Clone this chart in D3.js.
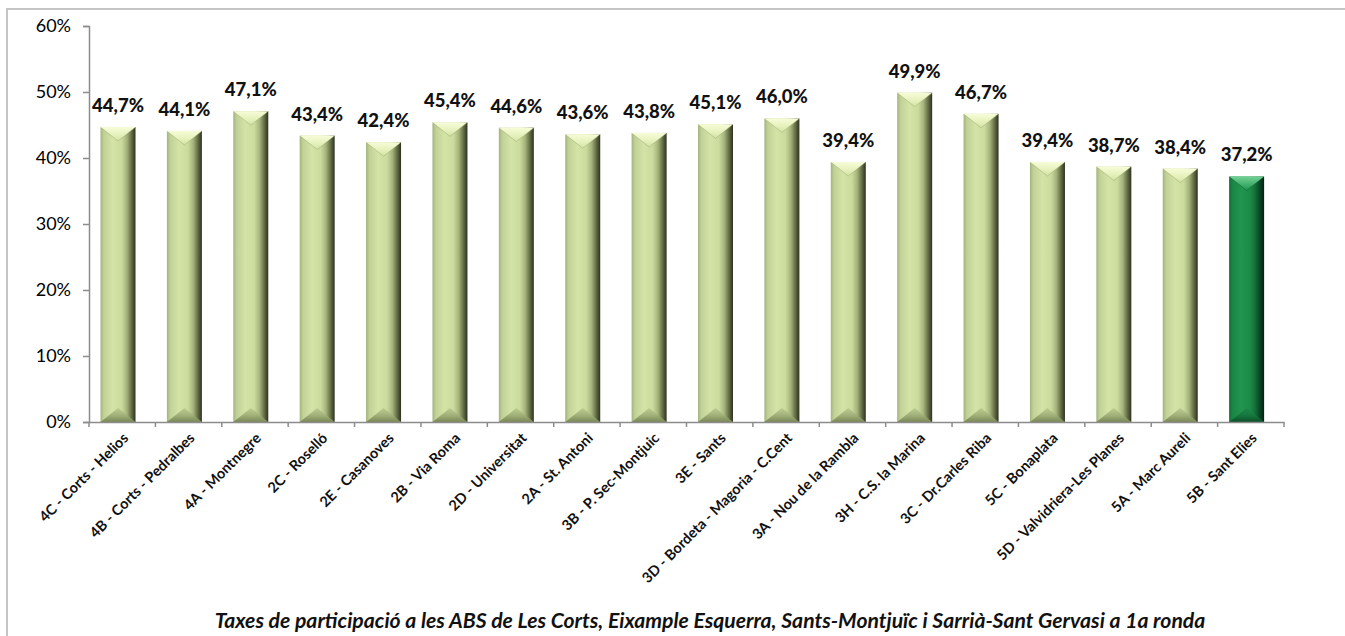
<!DOCTYPE html>
<html>
<head>
<meta charset="utf-8">
<script src="https://cdn.jsdelivr.net/npm/d3@7"></script>
<style>
  html, body { margin: 0; padding: 0; background: #fff; }
  svg { display: block; }
  text { font-family: Lato, "Open Sans", sans-serif; }
</style>
</head>
<body>
<svg id="chart" width="1345" height="636"></svg>
<script>
// ---- data ----
const categories = [
  "4C - Corts - Helios", "4B - Corts - Pedralbes", "4A - Montnegre", "2C - Roselló",
  "2E - Casanoves", "2B - Via Roma", "2D - Universitat", "2A - St. Antoni",
  "3B - P. Sec-Montjuic", "3E - Sants", "3D - Bordeta - Magoria - C.Cent",
  "3A - Nou de la Rambla", "3H - C.S. la Marina", "3C - Dr.Carles Riba",
  "5C - Bonaplata", "5D - Valvidriera-Les Planes", "5A - Marc Aureli", "5B - Sant Elies"
];
const values = [44.7, 44.1, 47.1, 43.4, 42.4, 45.4, 44.6, 43.6, 43.8, 45.1, 46.0, 39.4, 49.9, 46.7, 39.4, 38.7, 38.4, 37.2];
const highlighted = ["5B - Sant Elies"];
const yTicks = [0, 10, 20, 30, 40, 50, 60];
const title = "Taxes de participació a les ABS de Les Corts, Eixample Esquerra, Sants-Montjuïc i Sarrià-Sant Gervasi a 1a ronda";

// ---- layout ----
const svg = d3.select("#chart");
const plot = { left: 89, right: 1284, top: 26, bottom: 422 };

// frame
svg.append("rect").attr("x", 7).attr("y", 9).attr("width", 1400).attr("height", 700)
  .attr("fill", "none").attr("stroke", "#c4c4c4").attr("stroke-width", 2);

const x = d3.scaleBand().domain(categories).range([plot.left, plot.right]).paddingInner(0).paddingOuter(0);
const y = d3.scaleLinear().domain([0, 60]).range([plot.bottom, plot.top]);

// gradients
const defs = svg.append("defs");
function grad(id, vertical, stops) {
  const g = defs.append("linearGradient").attr("id", id)
    .attr("x1", 0).attr("y1", 0).attr("x2", vertical ? 0 : 1).attr("y2", vertical ? 1 : 0);
  stops.forEach(s => g.append("stop").attr("offset", s[0]).attr("stop-color", s[1]));
}
const themes = {
  light: { body: "lb", top: "lt", bot: "lbo", edge: "#9aa871" },
  dark: { body: "db", top: "dt", bot: "dbo", edge: "#0f5c2e" }
};
grad("lb", false, [[0, "#a3b37c"], [0.1, "#c2d297"], [0.35, "#d4e4a7"], [0.6, "#cbdb9d"], [0.75, "#a6b47c"], [0.88, "#667049"], [1, "#2c311f"]]);
grad("lt", true, [[0, "#f7fcd8"], [0.6, "#e4f0ba"], [1, "#d2e2a4"]]);
grad("lbo", true, [[0, "#bccc90"], [0.5, "#a2b27a"], [1, "#7a8856"]]);
grad("db", false, [[0, "#137036"], [0.1, "#1a8646"], [0.35, "#21954f"], [0.6, "#1c8a48"], [0.75, "#146c38"], [0.88, "#0a4524"], [1, "#032010"]]);
grad("dt", true, [[0, "#74d196"], [0.6, "#3fae6b"], [1, "#1f9350"]]);
grad("dbo", true, [[0, "#1c8646"], [0.5, "#167a3f"], [1, "#0c4f28"]]);

const barW = 35;
const barOffset = 11.5;
const bev = 14;

svg.append("g").selectAll("g").data(categories).join("g")
  .each(function(c, i) {
    const g = d3.select(this);
    const t = highlighted.includes(c) ? themes.dark : themes.light;
    const x0 = x(c) + barOffset, x1 = x0 + barW, xm = (x0 + x1) / 2;
    const yt = y(values[i]), yb = y(0);
    g.append("rect").attr("x", x0).attr("y", yt).attr("width", barW).attr("height", yb - yt)
      .attr("fill", `url(#${t.body})`);
    g.append("path").attr("d", `M${x0},${yt}L${x1},${yt}L${xm},${yt + bev}Z`)
      .attr("fill", `url(#${t.top})`);
    g.append("path").attr("d", `M${x0 + 1},${yt + 1}L${xm},${yt + bev}L${x1 - 1},${yt + 1}`)
      .attr("fill", "none").attr("stroke", t.edge).attr("stroke-width", 0.8).attr("opacity", 0.6);
    g.append("path").attr("d", `M${x0},${yb}L${x1},${yb}L${xm},${yb - bev}Z`)
      .attr("fill", `url(#${t.bot})`);
  });

// value labels
svg.append("g").selectAll("text").data(categories).join("text")
  .attr("x", c => x(c) + barOffset + barW / 2)
  .attr("y", (c, i) => y(values[i]) - 15)
  .attr("text-anchor", "middle")
  .attr("font-size", 18.5).attr("font-weight", 900).attr("fill", "#111")
  .text((c, i) => values[i].toFixed(1).replace(".", ",") + "%");

// y axis
const yAxis = svg.append("g").attr("transform", `translate(${plot.left},0)`)
  .call(d3.axisLeft(y).tickValues(yTicks).tickSize(6).tickPadding(12).tickFormat(d => d + "%"));
yAxis.select(".domain").attr("stroke", "#8c8c8c").attr("stroke-width", 1.5);
yAxis.selectAll(".tick line").attr("stroke", "#8c8c8c").attr("stroke-width", 1.5);
yAxis.selectAll(".tick text").attr("font-size", 18).attr("fill", "#000")
  .attr("font-family", "Lato, sans-serif");

// x axis
const xAxis = svg.append("g").attr("transform", `translate(0,${plot.bottom})`)
  .call(d3.axisBottom(x).tickSize(0).tickFormat(""));
xAxis.select(".domain").attr("stroke", "#8c8c8c").attr("stroke-width", 1.5);
xAxis.selectAll(".tick").remove();
const bounds = [plot.left].concat(categories.map(c => x(c) + x.bandwidth()));
xAxis.selectAll("line.b").data(bounds).join("line").attr("class", "b")
  .attr("x1", d => d).attr("x2", d => d).attr("y1", 0).attr("y2", 5)
  .attr("stroke", "#8c8c8c").attr("stroke-width", 1.5);

svg.append("g").selectAll("text").data(categories).join("text")
  .attr("transform", c => `translate(${x(c) + x.bandwidth() / 2 + 7},${plot.bottom + 17}) rotate(-45)`)
  .attr("text-anchor", "end")
  .attr("font-size", 14.5).attr("font-weight", "bold").attr("fill", "#111")
  .text(c => c);

// title
const tt = svg.append("text").attr("x", 710).attr("y", 628).attr("text-anchor", "middle")
  .attr("font-size", 17).attr("font-weight", "bold").attr("font-style", "italic").attr("fill", "#111")
  .text(title);
const len = tt.node().getComputedTextLength();
tt.attr("font-size", 17 * 991 / len);
</script>
</body>
</html>
